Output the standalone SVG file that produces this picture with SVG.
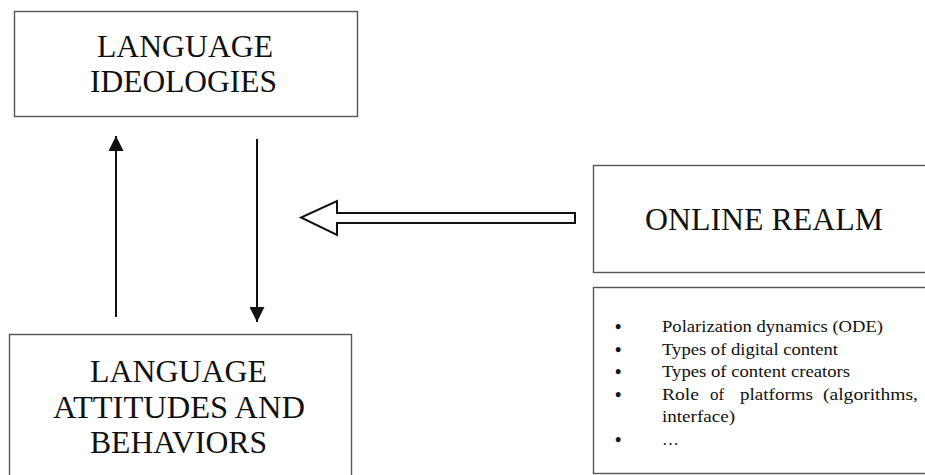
<svg xmlns="http://www.w3.org/2000/svg" width="925" height="475" viewBox="0 0 925 475">
<defs>
<style>
.box{fill:#fff;stroke:#555;stroke-width:1.4}
.big{font-family:"Liberation Serif","Times New Roman",serif;font-size:31px;fill:#111}
.small{font-family:"Liberation Serif","Times New Roman",serif;font-size:17px;fill:#111}
.bul{font-family:"Liberation Serif","Times New Roman",serif;font-size:18px;font-weight:bold;fill:#111}
.line{stroke:#111;stroke-width:2;fill:none}
</style>
<marker id="ah" viewBox="0 0 10 10" refX="10" refY="5" markerWidth="15" markerHeight="15" markerUnits="userSpaceOnUse" orient="auto">
<path d="M0,0 L10,5 L0,10 z" fill="#111"/>
</marker>
</defs>
<rect width="925" height="475" fill="#fff"/>
<g id="ideologies">
<rect class="box" x="14.5" y="11.5" width="343" height="105"/>
<text class="big" x="97" y="57" textLength="176" lengthAdjust="spacingAndGlyphs">LANGUAGE</text>
<text class="big" x="90" y="92" textLength="187" lengthAdjust="spacingAndGlyphs">IDEOLOGIES</text>
</g>
<g id="attitudes">
<rect class="box" x="9.5" y="334.5" width="342" height="150"/>
<text class="big" x="90" y="382" textLength="177" lengthAdjust="spacingAndGlyphs">LANGUAGE</text>
<text class="big" x="53" y="418" textLength="252" lengthAdjust="spacingAndGlyphs">ATTITUDES AND</text>
<text class="big" x="90" y="453" textLength="177" lengthAdjust="spacingAndGlyphs">BEHAVIORS</text>
</g>
<g id="online">
<rect class="box" x="593.5" y="165.5" width="340" height="107"/>
<text class="big" x="645" y="230" textLength="238" lengthAdjust="spacingAndGlyphs">ONLINE REALM</text>
</g>
<g id="list">
<rect class="box" x="593.5" y="287.5" width="340" height="186"/>
<g class="bul">
<text x="615" y="333">•</text>
<text x="615" y="356">•</text>
<text x="615" y="378">•</text>
<text x="615" y="401">•</text>
<text x="615" y="446">•</text>
</g>
<g class="small">
<text x="662" y="332" textLength="221" lengthAdjust="spacingAndGlyphs">Polarization dynamics (ODE)</text>
<text x="662" y="355" textLength="176" lengthAdjust="spacingAndGlyphs">Types of digital content</text>
<text x="662" y="377" textLength="188" lengthAdjust="spacingAndGlyphs">Types of content creators</text>
<text x="662" y="400" textLength="37" lengthAdjust="spacingAndGlyphs">Role</text>
<text x="710" y="400">of</text>
<text x="740" y="400" textLength="73" lengthAdjust="spacingAndGlyphs">platforms</text>
<text x="823" y="400" textLength="95" lengthAdjust="spacingAndGlyphs">(algorithms,</text>
<text x="662" y="422" textLength="73" lengthAdjust="spacingAndGlyphs">interface)</text>
<text x="662" y="445">…</text>
</g>
</g>
<g id="connectors">
<line class="line" x1="116" y1="317" x2="116" y2="136" marker-end="url(#ah)"/>
<line class="line" x1="257" y1="139" x2="257" y2="322" marker-end="url(#ah)"/>
<path d="M575,213 L337,213 L337,201 L301,217.5 L337,235 L337,223 L575,223 Z" fill="#fff" stroke="#111" stroke-width="2" stroke-linejoin="miter"/>
</g>
</svg>
